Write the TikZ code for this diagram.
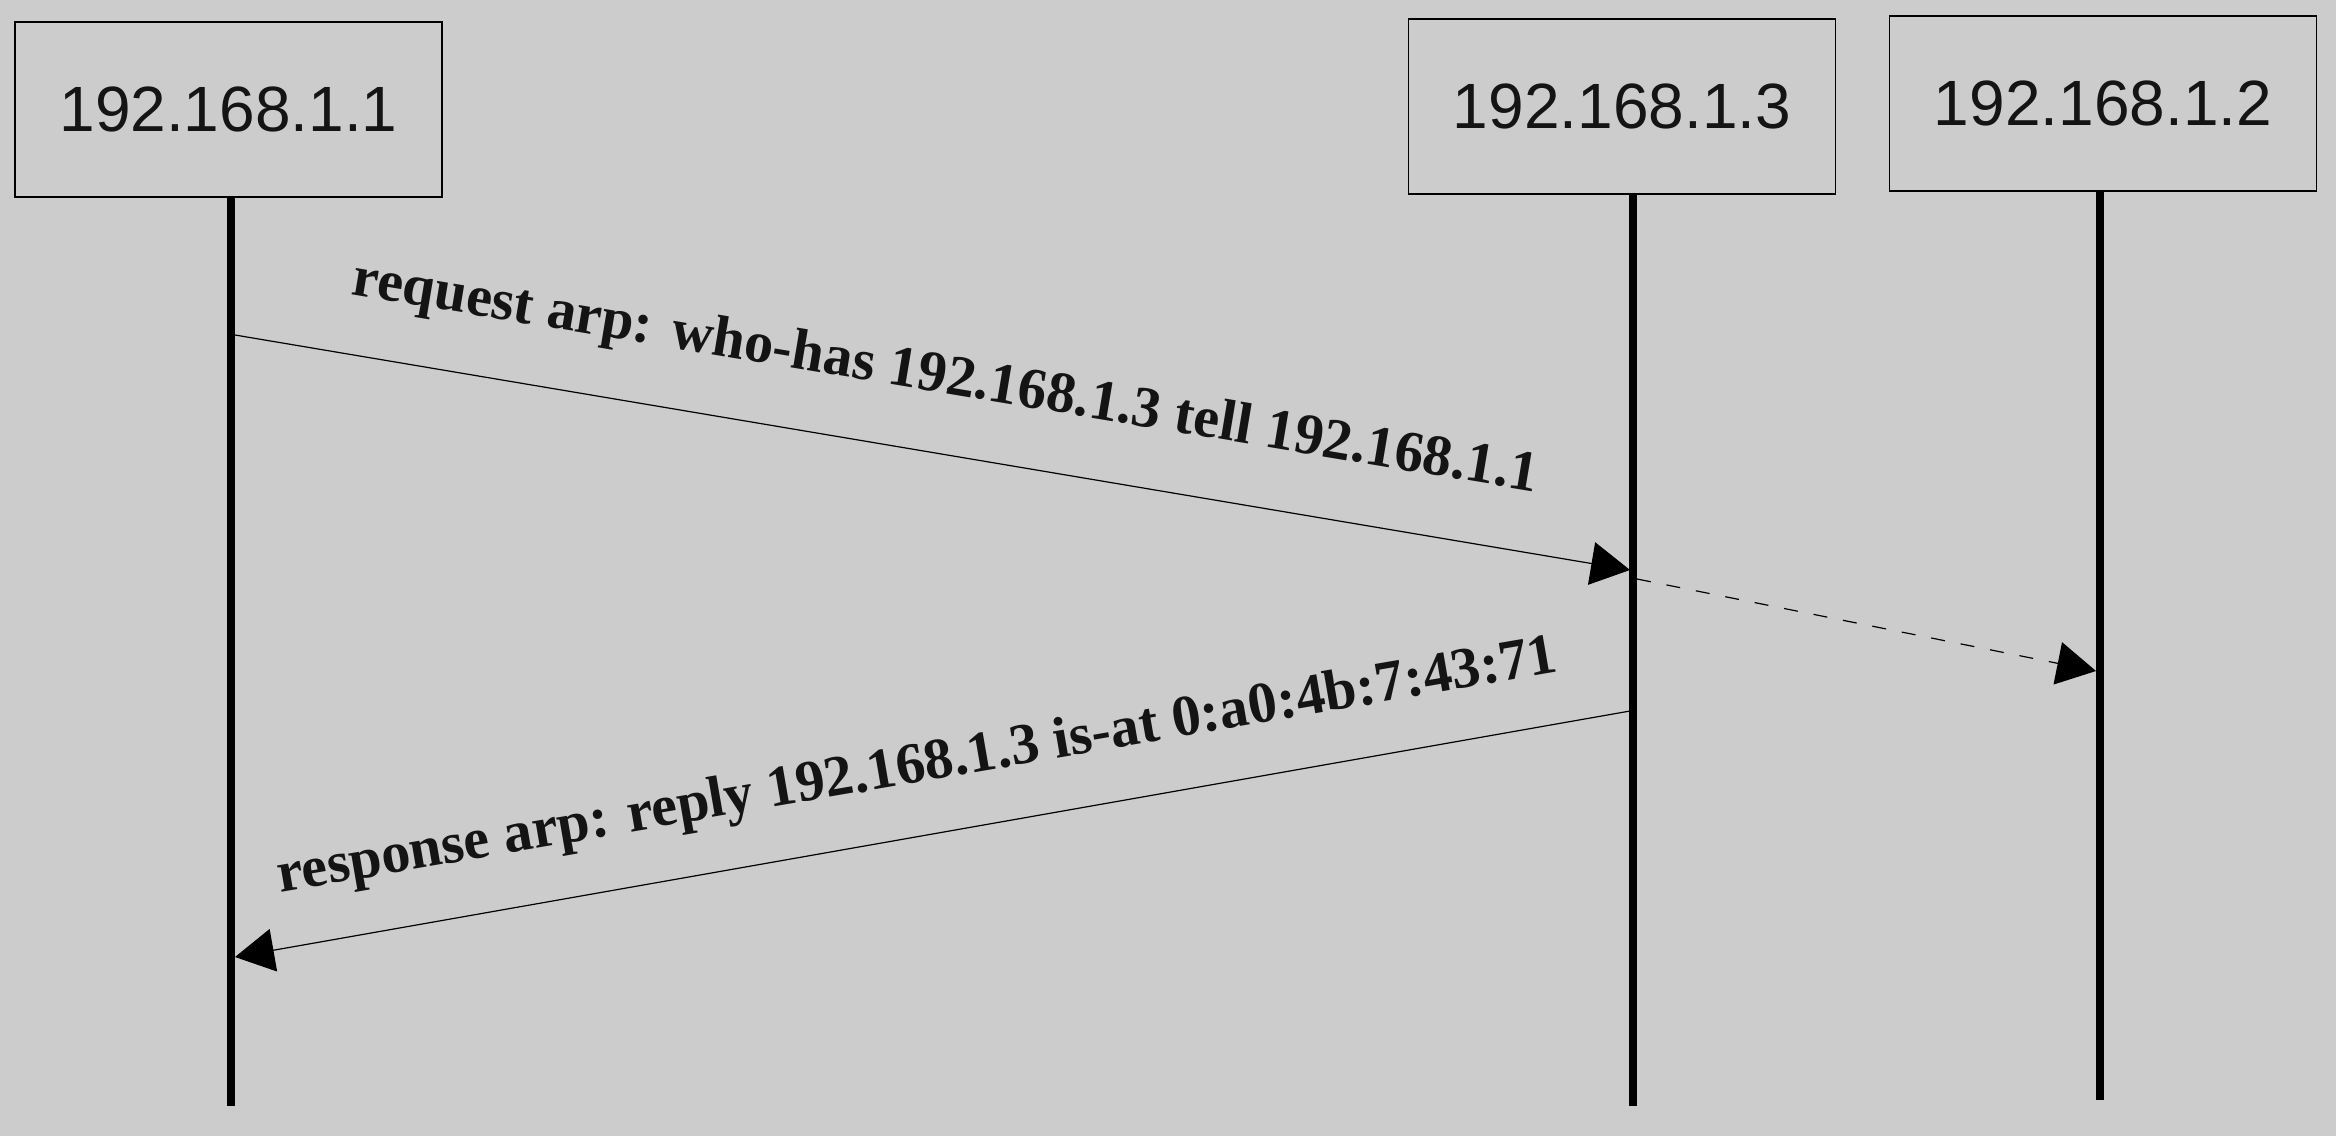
\documentclass[tikz,border=0pt]{standalone}
\usepackage{fontspec}
\setmainfont{Liberation Serif}
\newfontfamily\boxfont{Liberation Sans}
\usetikzlibrary{arrows.meta}
\definecolor{bg}{HTML}{CCCCCC}
\definecolor{ink}{HTML}{141414}
\tikzset{
  hostbox/.style={draw=black, line width=0.6pt, minimum width=213.5pt, minimum height=87.5pt,
    inner sep=0pt, outer sep=0pt, text=ink, font=\boxfont\fontsize{32pt}{32pt}\selectfont},
  lifeline/.style={line width=3.6pt, black},
  msg/.style={line width=0.6pt, black, -{Triangle[length=19.5pt, width=21.5pt]}},
  fwd/.style={msg, dash pattern=on 7pt off 8pt},
  msglabel/.style={text=ink, inner sep=0pt, anchor=base,
    font=\bfseries\fontsize{29pt}{29pt}\selectfont}
}
\begin{document}
\begin{tikzpicture}[x=0.5pt, y=-0.5pt]
\fill[bg] (0,0) rectangle (2336,1136);
\useasboundingbox (0,0) rectangle (2336,1136);
% hosts
\node[hostbox] (h1) at (228.5,109.5) {192.168.1.1};
\node[hostbox] (h3) at (1622,106.5) {192.168.1.3};
\node[hostbox] (h2) at (2103,103.5) {192.168.1.2};
% lifeline ends
\coordinate (e1) at (231,1106);
\coordinate (e3) at (1633,1106);
\coordinate (e2) at (2100,1100);
\draw[lifeline] (h1.south -| e1) -- (e1);
\draw[lifeline] (h3.south -| e3) -- (e3);
\draw[lifeline] (h2.south -| e2) -- (e2);
% message points
\coordinate (r1) at (235,335);
\coordinate (r3) at (1630,570);
\coordinate (f3) at (1637,579);
\coordinate (f2) at (2096,671);
\coordinate (p3) at (1630,711);
\coordinate (p1) at (235,957);
\draw[msg] (r1) -- (r3);
\draw[fwd] (f3) -- (f2);
\draw[msg] (p3) -- (p1);
% labels
\node[msglabel, rotate=-9.48] (l1) at (943,393) {request arp: who-has 192.168.1.3 tell 192.168.1.1};
\node[msglabel, rotate=9.8] (l2) at (920,782) {response arp: reply 192.168.1.3 is-at 0:a0:4b:7:43:71};
\end{tikzpicture}
\end{document}
